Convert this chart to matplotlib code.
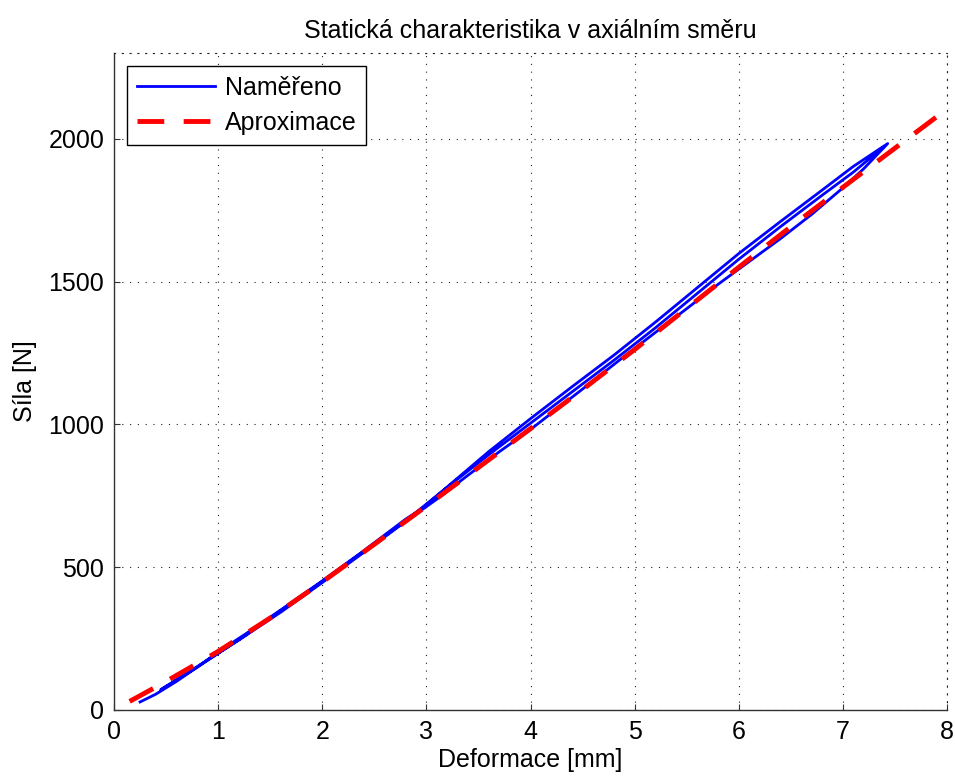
import matplotlib
matplotlib.use("Agg")
import matplotlib.pyplot as plt

plt.rcParams['font.family'] = ['Liberation Sans', 'DejaVu Sans']

# measured loops (loading / unloading / second loading)
up1_x = [0.25, 0.40, 0.60, 0.80, 1.00, 1.30, 1.60, 2.00, 2.40, 2.80, 2.95, 3.00,
         3.30, 3.60, 4.00, 4.40, 4.80, 5.20, 5.60, 6.00, 6.40, 6.80, 7.10, 7.43]
up1_y = [28, 55, 100, 150, 203, 275, 350, 452, 558, 668, 703, 718,
         812, 905, 1020, 1132, 1242, 1358, 1478, 1598, 1710, 1820, 1903, 1983]

down1_x = [7.43, 7.20, 7.00, 6.70, 6.40, 6.10, 5.80, 5.50, 5.20, 4.90, 4.60, 4.30,
           4.00, 3.70, 3.40, 3.10, 2.80, 2.40, 2.00, 1.60, 1.20, 0.80, 0.45]
down1_y = [1983, 1895, 1828, 1735, 1650, 1570, 1490, 1405, 1322, 1238, 1152, 1067,
           982, 904, 822, 738, 660, 552, 446, 342, 245, 152, 70]

up2_x = [0.45, 0.80, 1.20, 1.60, 2.00, 2.40, 2.80, 3.20, 3.60, 4.00, 4.40, 4.80,
         5.20, 5.60, 6.00, 6.40, 6.80, 7.10, 7.38]
up2_y = [72, 150, 246, 347, 450, 556, 662, 780, 894, 1004, 1114, 1224,
         1338, 1458, 1578, 1692, 1802, 1883, 1968]

# approximation
apx_x = [0.15, 0.5, 1.0, 1.5, 2.0, 2.5, 3.0, 3.5, 4.0, 4.5, 5.0, 5.5, 6.0, 6.5, 7.0, 7.5, 8.0]
apx_y = [30, 100, 205, 322, 448, 580, 714, 849, 985, 1122, 1262, 1406, 1550, 1692, 1830, 1967, 2104]

meas_x = up1_x + down1_x + up2_x
meas_y = up1_y + down1_y + up2_y

fig = plt.figure(figsize=(9.55, 7.76), dpi=100)
ax = fig.add_axes([0.1194, 0.0851, 0.8723, 0.8466])

ax.plot(meas_x, meas_y, color="#0000ff", lw=2.0, label="Naměřeno")
ax.plot(apx_x, apx_y, color="#ff0000", lw=3.5, dashes=(5.5, 4), label="Aproximace")

ax.set_xlim(0, 8)
ax.set_ylim(0, 2300)
ax.set_xticks(range(0, 9))
ax.set_yticks([0, 500, 1000, 1500, 2000])

ax.grid(True, color="#222222", linestyle=(0, (1, 6)), lw=0.8)
for side in ("top", "right"):
    ax.spines[side].set_linestyle((0, (1, 6)))
    ax.spines[side].set_color("#222222")
    ax.spines[side].set_linewidth(0.8)
for side in ("left", "bottom"):
    ax.spines[side].set_color("#333333")
    ax.spines[side].set_linewidth(1.0)

ax.tick_params(direction="in", length=4, labelsize=18, pad=7, colors="#333333",
               labelcolor="black", top=False, right=False)

ax.set_title("Statická charakteristika v axiálním směru", fontsize=18, pad=11)
ax.set_xlabel("Deformace [mm]", fontsize=18, labelpad=3)
ax.set_ylabel("Síla [N]", fontsize=18, labelpad=8)

leg = ax.legend(loc="upper left", bbox_to_anchor=(0.0156, 0.980), borderaxespad=0,
                fontsize=18, fancybox=False, framealpha=1, edgecolor="black",
                handlelength=3.1, handletextpad=0.4, labelspacing=0.42, borderpad=0.4)
leg.get_frame().set_linewidth(1.0)

fig.savefig("out.png", dpi=100)
